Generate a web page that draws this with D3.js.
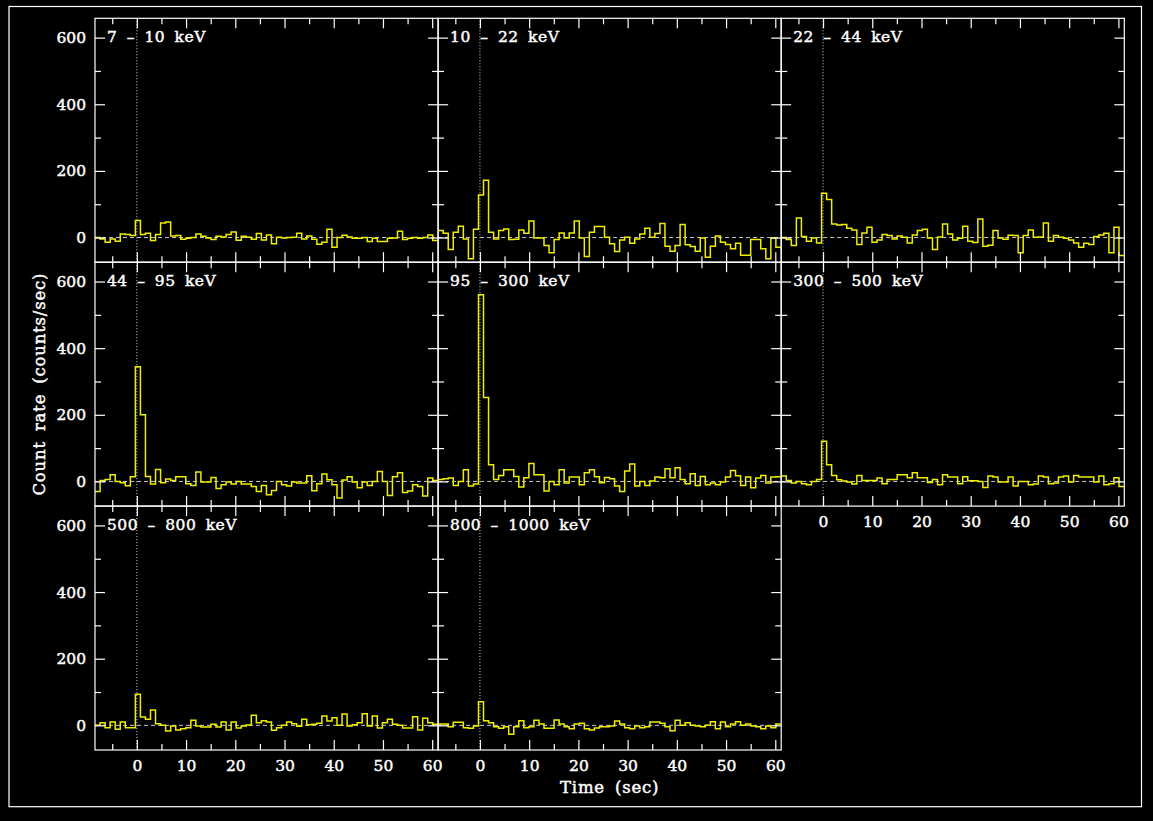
<!DOCTYPE html>
<html>
<head>
<meta charset="utf-8">
<script src="https://cdn.jsdelivr.net/npm/d3@7"></script>
<style>
  body { margin: 0; background: #000; }
  svg text { font-family: "DejaVu Serif", serif; fill: #fff; stroke: #fff; stroke-width: 0.45px; word-spacing: 4px; }
</style>
</head>
<body>
<svg id="chart" width="1153" height="821"></svg>
<script>
// ---- data: count rate (counts/sec), one value per 1.024 s bin, first bin starts at -8.49 s
var binStart = -8.49, binWidth = 1.024;

var bandLabels = ['7 – 10 keV', '10 – 22 keV', '22 – 44 keV', '44 – 95 keV',
                  '95 – 300 keV', '300 – 500 keV', '500 – 800 keV', '800 – 1000 keV'];

var rate7_10 = [0, -4, -14, -4, -11, 11, 9, 6, 51, 9, 13, -9, 9, 44, 47, 5, 6, -5, -2, 0,
  11, 4, -1, -6, 4, 2, 9, 17, -8, 4, 1, -5, 12, -7, 8, -19, 1, -1, 0, 1,
  13, -4, 5, -5, -20, -14, 25, -29, 0, 7, 2, -2, -2, 0, -12, -2, -12, -12, -2, -1,
  19, -6, -2, 0, -2, 0, 8, -9];
var rate10_22 = [21, 13, -36, 16, 34, -4, -64, 25, 128, 172, 16, -4, 21, 26, -6, -5, 23, 13, 50, -1,
  -1, -24, -46, -6, 14, -1, 14, 50, -1, -57, 16, 33, 33, 1, -19, -42, -7, 1, -17, -4,
  11, 28, 1, 12, 42, -26, -41, -24, 39, -22, -27, -41, -1, -59, -26, 5, -14, -21, -34, -17,
  -53, -53, -6, -6, -34, -64, -1, -29];
var rate22_44 = [0, -6, -24, 59, 3, -11, -1, -16, 133, 114, 41, 38, 39, 28, 23, -21, 14, 31, -14, -7,
  9, 6, -4, 5, 1, -16, 8, 21, 25, -1, -36, 2, 41, 11, -7, -2, 34, -11, -15, 56,
  -26, -23, 21, -1, -5, 7, 6, -46, 6, 23, 1, 2, 44, -11, 6, 1, -2, -7, -16, -29,
  -17, -21, 3, 8, 13, -46, 31, -54];
var rate44_95 = [-30, 3, 6, 20, 0, -4, -13, 14, 344, 200, 15, -8, 36, -4, 7, 3, 14, 14, -7, -12,
  28, -2, -2, 12, -21, -10, -2, -8, 0, -8, -8, -15, -30, -12, -40, -27, 0, -10, -14, -2,
  -5, -5, 17, -28, -7, 22, 5, -10, -50, 4, 14, -2, -19, -2, -12, 0, 30, 0, -42, 14,
  26, -33, -29, -10, -15, -44, 10, 3];
var rate95_300 = [6, 8, 10, -12, 0, 35, -14, -8, 560, 252, 50, 6, 18, 35, 35, 15, -17, 11, 54, 20,
  20, -29, 0, -10, 35, -5, 13, 13, -10, 26, 35, 14, -4, 12, 8, -14, -30, 31, 52, -14,
  0, -12, 1, 13, 11, 38, 11, 41, 6, -7, 23, -12, 15, -10, -5, -10, -2, 13, 33, 17,
  -12, 13, -19, 10, 18, -5, 13, 14];
var rate300_500 = [16, 3, -5, 0, -7, -10, 0, 6, 121, 50, 18, 5, 1, -2, -8, 18, 3, 3, 3, 10,
  -7, 6, 6, 20, 20, 11, 26, 11, 11, -3, 6, -10, 20, 13, 13, -7, 14, 2, 2, 0,
  -18, 16, 13, -2, -2, 13, -14, 0, 0, -10, -8, 16, 13, -7, -5, 13, 16, -2, 18, 13,
  13, 13, -2, 16, -10, -7, 11, -15];
var rate500_800 = [0, 8, -7, 10, -12, 10, -7, -7, 93, 25, 18, 46, 5, 0, -17, -2, -14, -10, -7, 15,
  -2, -5, -5, 3, -5, 10, -14, 10, -8, -2, 1, 30, 8, 14, 10, -15, -7, 0, 10, 5,
  -3, 18, 2, 3, 6, 28, 13, 23, 0, 34, -2, 2, 8, 35, -2, 28, -8, 8, 18, 3,
  0, -8, -8, 26, -14, 21, 8, 3];
var rate800_1000 = [4, 4, -4, 9, 9, -7, -9, -2, 71, 14, 8, -4, -9, -4, -27, -4, 14, -7, -4, 15,
  4, -9, -9, 16, 4, -4, -10, 4, 6, -10, -14, -8, -4, -4, -2, 13, 4, -7, -10, -2,
  -7, -4, 10, 10, 6, -4, -16, 15, 0, 8, 0, -2, -4, 0, 11, -10, 10, -4, 4, 11,
  0, 4, -2, -4, -10, -2, -7, 4];

var xMajorTicks = [0, 10, 20, 30, 40, 50, 60];
var xMinorTicks = [-5, 5, 15, 25, 35, 45, 55];
var yMajorTicks = [0, 200, 400, 600];
var yMinorTicks = [100, 300, 500];

var bandRates = [rate7_10, rate10_22, rate22_44, rate44_95, rate95_300, rate300_500, rate500_800, rate800_1000];

// ---- layout
var width = 1153, height = 821;
var plotLeft = 95, plotTop = 18.3, panelW = 343.1, panelH = 243.9;
var nCols = 3;

var svg = d3.select('#chart');
svg.append('rect').attr('width', width).attr('height', height).attr('fill', '#000');
svg.append('rect')
  .attr('x', 9).attr('y', 6.5).attr('width', 1132.5).attr('height', 800.2)
  .attr('fill', 'none').attr('stroke', '#fff').attr('stroke-width', 1.2);

var x = d3.scaleLinear().domain([-8.5, 61.2]).range([0, panelW]);
var y = d3.scaleLinear().domain([-74, 658]).range([panelH, 0]);

var edges = d3.range(rate7_10.length + 1).map(function(i){ return binStart + i * binWidth; });

var line = d3.line()
  .x(function(d){ return x(d[0]); })
  .y(function(d){ return y(d[1]); })
  .curve(d3.curveStepAfter);

function styleAxis(g){
  g.select('.domain').remove();
  g.selectAll('line').attr('stroke', '#fff').attr('stroke-width', 1.2);
  g.attr('font-family', null).attr('font-size', null);
  g.selectAll('text').attr('fill', '#fff').style('font-size', '15.5px');
}

bandLabels.forEach(function(label, i){
  var col = i % nCols, row = Math.floor(i / nCols);
  var px = plotLeft + col * panelW, py = plotTop + row * panelH;
  var p = svg.append('g').attr('transform', 'translate(' + px + ',' + py + ')');

  p.append('clipPath').attr('id', 'clip' + i)
    .append('rect').attr('width', panelW).attr('height', panelH);

  // reference lines
  p.append('line')
    .attr('x1', 0).attr('x2', panelW).attr('y1', y(0)).attr('y2', y(0))
    .attr('stroke', '#c8c8c8').attr('stroke-width', 1).attr('stroke-dasharray', '4,3');
  p.append('line')
    .attr('x1', x(0)).attr('x2', x(0)).attr('y1', 0).attr('y2', panelH)
    .attr('stroke', '#d8d8d8').attr('stroke-width', 1).attr('stroke-dasharray', '1,2');

  // histogram
  var values = bandRates[i];
  var pts = values.map(function(v, k){ return [edges[k], v]; });
  pts.push([edges[values.length], values[values.length - 1]]);
  p.append('path')
    .attr('clip-path', 'url(#clip' + i + ')')
    .attr('d', line(pts))
    .attr('fill', 'none').attr('stroke', '#eeee00').attr('stroke-width', 1.5);

  // inward ticks on all four sides
  p.append('g').attr('transform', 'translate(0,' + panelH + ')')
    .call(d3.axisBottom(x).tickValues(xMajorTicks).tickSize(-10).tickFormat(''))
    .call(styleAxis);
  p.append('g').attr('transform', 'translate(0,' + panelH + ')')
    .call(d3.axisBottom(x).tickValues(xMinorTicks).tickSize(-6).tickFormat(''))
    .call(styleAxis);
  p.append('g')
    .call(d3.axisTop(x).tickValues(xMajorTicks).tickSize(-10).tickFormat(''))
    .call(styleAxis);
  p.append('g')
    .call(d3.axisTop(x).tickValues(xMinorTicks).tickSize(-6).tickFormat(''))
    .call(styleAxis);
  p.append('g')
    .call(d3.axisLeft(y).tickValues(yMajorTicks).tickSize(-10).tickFormat(''))
    .call(styleAxis);
  p.append('g')
    .call(d3.axisLeft(y).tickValues(yMinorTicks).tickSize(-6).tickFormat(''))
    .call(styleAxis);
  p.append('g').attr('transform', 'translate(' + panelW + ',0)')
    .call(d3.axisRight(y).tickValues(yMajorTicks).tickSize(-10).tickFormat(''))
    .call(styleAxis);
  p.append('g').attr('transform', 'translate(' + panelW + ',0)')
    .call(d3.axisRight(y).tickValues(yMinorTicks).tickSize(-6).tickFormat(''))
    .call(styleAxis);

  p.append('rect')
    .attr('width', panelW).attr('height', panelH)
    .attr('fill', 'none').attr('stroke', '#fff').attr('stroke-width', 1.2);

  // tick labels
  if (col === 0) {
    p.append('g')
      .call(d3.axisLeft(y).tickValues(yMajorTicks).tickSize(0).tickPadding(9))
      .call(styleAxis);
  }
  var hasBelow = (i + nCols) < bandLabels.length;
  if (!hasBelow) {
    p.append('g').attr('transform', 'translate(0,' + panelH + ')')
      .call(d3.axisBottom(x).tickValues(xMajorTicks).tickSize(0).tickPadding(10))
      .call(styleAxis);
  }

  p.append('text')
    .attr('x', 12).attr('y', 24)
    .style('font-size', '15.5px')
    .style('letter-spacing', '0.5px')
    .text(label);
});

svg.append('text')
  .attr('x', plotLeft + 1.5 * panelW).attr('y', 793)
  .attr('text-anchor', 'middle')
  .style('font-size', '16.5px')
  .style('letter-spacing', '0.8px')
  .text('Time (sec)');

svg.append('text')
  .attr('transform', 'translate(45,' + (plotTop + 1.5 * panelH) + ') rotate(-90)')
  .attr('text-anchor', 'middle')
  .style('font-size', '16.5px')
  .style('letter-spacing', '0.8px')
  .text('Count rate (counts/sec)');
</script>
</body>
</html>
